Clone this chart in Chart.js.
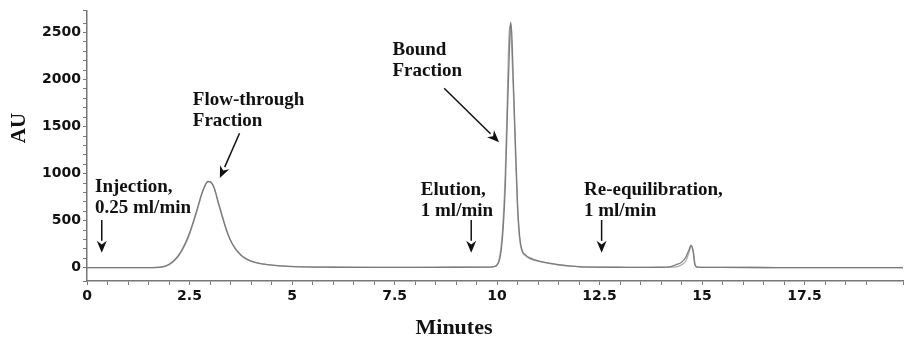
<!DOCTYPE html>
<html>
<head>
<meta charset="utf-8">
<script src="https://cdn.jsdelivr.net/npm/chart.js@4.4.1/dist/chart.umd.min.js"></script>
<style>
    html, body { margin: 0; padding: 0; background: #fff; }
</style>
</head>
<body>
<canvas id="grafikKromatogram" width="906" height="338"></canvas>
<script>
// run 1 (darker trace): minutes / AU
const waktuA = [0, 1.0, 1.6, 1.8, 1.9, 2.0, 2.1, 2.2, 2.3, 2.4, 2.5, 2.6, 2.7, 2.8, 2.9, 2.95, 3.0, 3.1, 3.2, 3.3, 3.4, 3.5, 3.6, 3.7, 3.8, 3.9, 4.0, 4.2, 4.45, 4.8, 5.25, 6, 7, 8, 9, 9.8,
    9.95, 10.0, 10.05, 10.1, 10.15, 10.2, 10.25, 10.3, 10.33, 10.36, 10.4, 10.45, 10.5, 10.55, 10.6, 10.7, 10.8, 10.9, 11.0, 11.2, 11.5, 11.8, 12.0, 12.5, 13.0, 13.5, 14.0,
    14.2, 14.35, 14.5, 14.6, 14.68, 14.73, 14.78, 14.82, 14.88, 15.5, 17, 19.9];
const auA = [3, 3, 3, 8, 18, 38, 70, 115, 180, 265, 370, 500, 645, 790, 895, 918, 915, 850, 690, 540, 400, 290, 215, 160, 117, 90, 70, 48, 32, 18, 10, 6, 4, 5, 6, 8,
    15, 30, 70, 180, 420, 850, 1600, 2300, 2610, 2480, 1950, 1300, 680, 340, 200, 135, 105, 88, 75, 55, 33, 18, 12, 7, 6, 5, 6,
    10, 30, 60, 110, 190, 240, 175, 40, 8, 4, 3, 3];

// run 2 (lighter trace)
const waktuB = [0, 1.0, 1.6, 1.8, 2.0, 2.2, 2.4, 2.5, 2.6, 2.7, 2.8, 2.9, 2.95, 3.0, 3.1, 3.2, 3.3, 3.4, 3.5, 3.6, 3.7, 3.8, 4.0, 4.2, 4.5, 5.0, 5.5, 6, 7, 8, 9, 9.8,
    9.95, 10.0, 10.05, 10.1, 10.15, 10.2, 10.25, 10.29, 10.32, 10.35, 10.4, 10.45, 10.5, 10.55, 10.6, 10.7, 10.8, 10.9, 11.0, 11.2, 11.5, 11.8, 12.0, 12.5, 13.0, 13.5, 14.0,
    14.3, 14.45, 14.6, 14.68, 14.74, 14.79, 14.83, 14.88, 15.5, 17, 19.9];
const auB = [2, 2, 2, 6, 32, 105, 250, 355, 485, 630, 780, 890, 912, 910, 850, 705, 555, 410, 295, 215, 160, 120, 72, 47, 29, 15, 9, 6, 5, 5, 6, 7,
    14, 35, 90, 230, 520, 1000, 1800, 2450, 2580, 2400, 1850, 1200, 620, 310, 185, 125, 98, 82, 70, 52, 30, 17, 11, 6, 5, 5, 5,
    8, 20, 70, 160, 232, 170, 40, 8, 4, 3, 3];

// text notes: left edge (min), baseline of first line (AU)
const catatanTeks = [
    { baris: ['Injection,', '0.25 ml/min'], t: 0.195, au: 805 },
    { baris: ['Flow-through', 'Fraction'], t: 2.58, au: 1727 },
    { baris: ['Bound', 'Fraction'], t: 7.45, au: 2256 },
    { baris: ['Elution,', '1 ml/min'], t: 8.14, au: 773 },
    { baris: ['Re-equilibration,', '1 ml/min'], t: 12.12, au: 773 }
];

// arrows: tail -> tip, in minutes / AU
const catatanPanah = [
    { t1: 0.36, au1: 508, t2: 0.36, au2: 159 },
    { t1: 3.72, au1: 1430, t2: 3.24, au2: 953 },
    { t1: 8.71, au1: 1907, t2: 10.05, au2: 1335 },
    { t1: 9.37, au1: 508, t2: 9.37, au2: 159 },
    { t1: 12.55, au1: 508, t2: 12.55, au2: 159 }
];

function gabung(waktu, nilai) {
    return waktu.map(function (t, i) {
        return { x: t, y: nilai[i] };
    });
}

const catatan = {
    id: 'catatan',
    afterDraw: function (chart) {
        const ctx = chart.ctx;
        const sx = chart.scales.x;
        const sy = chart.scales.y;
        ctx.save();
        ctx.fillStyle = '#111';
        ctx.strokeStyle = '#111';
        ctx.font = 'bold 19px "Liberation Serif"';
        ctx.textAlign = 'left';
        ctx.textBaseline = 'alphabetic';
        catatanTeks.forEach(function (c) {
            let x = sx.getPixelForValue(c.t);
            let y = sy.getPixelForValue(c.au);
            c.baris.forEach(function (teks, i) {
                ctx.fillText(teks, x, y + i * 21);
            });
        });

        ctx.lineWidth = 1.5;
        catatanPanah.forEach(function (p) {
            let x1 = sx.getPixelForValue(p.t1), y1 = sy.getPixelForValue(p.au1);
            let x2 = sx.getPixelForValue(p.t2), y2 = sy.getPixelForValue(p.au2);
            let sudut = Math.atan2(y2 - y1, x2 - x1);
            let panjang = 12, lebar = 5;
            let bx = x2 - panjang * Math.cos(sudut), by = y2 - panjang * Math.sin(sudut);
            ctx.beginPath();
            ctx.moveTo(x1, y1);
            ctx.lineTo(bx, by);
            ctx.stroke();
            ctx.beginPath();
            ctx.moveTo(x2, y2);
            ctx.lineTo(bx + lebar * Math.sin(sudut), by - lebar * Math.cos(sudut));
            ctx.lineTo(x2 - 0.7 * panjang * Math.cos(sudut), y2 - 0.7 * panjang * Math.sin(sudut));
            ctx.lineTo(bx - lebar * Math.sin(sudut), by + lebar * Math.cos(sudut));
            ctx.closePath();
            ctx.fill();
        });

        // axis titles
        ctx.font = 'bold 22px "Liberation Serif"';
        ctx.textAlign = 'center';
        ctx.fillText('Minutes', 454, 334);
        ctx.translate(25, 128);
        ctx.rotate(-Math.PI / 2);
        ctx.font = 'bold 21px "Liberation Serif"';
        ctx.fillText('AU', 0, 0);
        ctx.restore();
    }
};

const fontTick = { family: 'DejaVu Sans', size: 14, weight: 'bold' };

new Chart('grafikKromatogram', {
    type: 'line',
    data: {
        datasets: [{
            label: 'Run 1',
            data: gabung(waktuA, auA),
            borderColor: 'rgba(120, 120, 120, 0.95)',
            borderWidth: 1.3,
            pointRadius: 0,
            cubicInterpolationMode: 'monotone'
        }, {
            label: 'Run 2',
            data: gabung(waktuB, auB),
            borderColor: 'rgba(170, 170, 170, 0.95)',
            borderWidth: 1.3,
            pointRadius: 0,
            cubicInterpolationMode: 'monotone'
        }]
    },
    options: {
        responsive: false,
        animation: false,
        layout: { padding: { top: 10, right: 1, left: 0, bottom: 0 } },
        plugins: {
            legend: { display: false },
            tooltip: { enabled: false }
        },
        scales: {
            x: {
                type: 'linear',
                min: 0,
                max: 19.9,
                afterFit: function (scale) { scale.height = 57; },
                border: { color: '#777', width: 1.5 },
                grid: { drawOnChartArea: false, tickLength: 4, color: '#777' },
                ticks: {
                    stepSize: 0.5,
                    maxTicksLimit: 100,
                    autoSkip: false,
                    maxRotation: 0,
                    padding: 3,
                    color: '#111',
                    font: fontTick,
                    callback: function (value) {
                        return value % 2.5 === 0 ? String(value) : '';
                    }
                }
            },
            y: {
                min: -140,
                max: 2735,
                afterFit: function (scale) { scale.width = 87; },
                border: { color: '#777', width: 1.5 },
                grid: { drawOnChartArea: false, tickLength: 4, color: '#777' },
                ticks: {
                    stepSize: 100,
                    maxTicksLimit: 100,
                    autoSkip: false,
                    padding: 2,
                    color: '#111',
                    font: fontTick,
                    callback: function (value) {
                        return value % 500 === 0 ? String(value) : '';
                    }
                }
            }
        }
    },
    plugins: [catatan]
});
</script>
</body>
</html>
